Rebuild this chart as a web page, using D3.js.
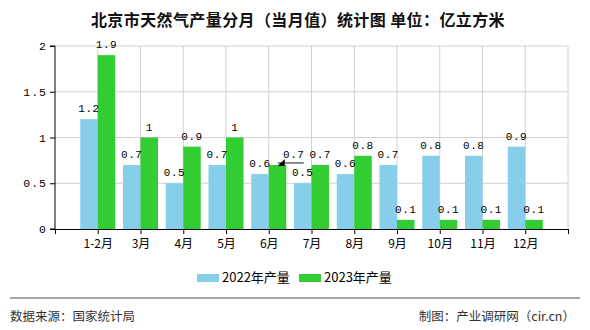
<!DOCTYPE html>
<html><head><meta charset="utf-8">
<script src="https://cdn.jsdelivr.net/npm/d3@7"></script>
<style>body{margin:0;background:#fff}svg{display:block}</style>
</head><body><svg id="c" width="590" height="330"></svg>
<script>
const categories = ["1-2月","3月","4月","5月","6月","7月","8月","9月","10月","11月","12月"];
const values2022 = [1.2,0.7,0.5,0.7,0.6,0.5,0.6,0.7,0.8,0.8,0.9];
const values2023 = [1.9,1,0.9,1,0.7,0.7,0.8,0.1,0.1,0.1,0.1];
const yTicks = [0,0.5,1,1.5,2];
const seriesNames = ["2022年产量","2023年产量"];
const colors = ["#87ceeb","#32cd32"];

const svg = d3.select("#c");
const L=55,R=568,T=46,B=229;
const x = d3.scaleLinear().domain([0,categories.length+1]).range([L,R]);
const y = d3.scaleLinear().domain([0,2]).range([B,T]);
const bw = 17.5;

// title
svg.append("text").attr("x",298).attr("y",26).attr("text-anchor","middle")
  .attr("font-family","'Noto Sans CJK SC',sans-serif").attr("font-size",16).attr("font-weight","bold")
  .attr("letter-spacing",0.4).attr("fill","#111").text("北京市天然气产量分月（当月值）统计图 单位：亿立方米");

// grid
const xt = d3.range(0,categories.length+2);
svg.append("g").selectAll("line").data(yTicks.filter(d=>d>0)).join("line")
  .attr("x1",L).attr("x2",R).attr("y1",d=>y(d)).attr("y2",d=>y(d)).attr("stroke","#d0d0d0");
svg.append("g").selectAll("line").data(xt.slice(1)).join("line")
  .attr("x1",d=>x(d)).attr("x2",d=>x(d)).attr("y1",T).attr("y2",B).attr("stroke","#d0d0d0");

// bars
const g = svg.append("g");
g.selectAll("rect.a").data(values2022).join("rect").attr("class","a")
  .attr("x",(d,i)=>x(i+1)-bw).attr("width",bw).attr("y",d=>y(d)).attr("height",d=>B-y(d)).attr("fill",colors[0]);
g.selectAll("rect.b").data(values2023).join("rect").attr("class","b")
  .attr("x",(d,i)=>x(i+1)).attr("width",bw).attr("y",d=>y(d)).attr("height",d=>B-y(d)).attr("fill",colors[1]);

// axes
const yAxis = d3.axisLeft(y).tickValues(yTicks).tickFormat(d3.format("")).tickSize(5);
const ya = svg.append("g").attr("transform",`translate(${L},0)`).call(yAxis);
ya.select(".domain").attr("stroke","#000").attr("d",`M-5,${T}H0V${B}H-5`);
ya.selectAll("text").attr("font-family","'Liberation Mono',monospace").attr("font-size",11.5).attr("letter-spacing",1)
  .attr("fill","#000").attr("x",-8);
const xAxis = d3.axisBottom(x).tickValues(xt).tickFormat(d=>categories[d-1]||"").tickSize(5).tickSizeOuter(0);
const xa = svg.append("g").attr("transform",`translate(0,${B})`).call(xAxis);
xa.select(".domain").attr("stroke","#000");
xa.selectAll("text").attr("font-family","'Noto Sans CJK SC',sans-serif").attr("font-size",12).attr("fill","#000").attr("dy","0.9em");

// labels
const lf = "'Liberation Mono',monospace";
const lab = svg.append("g").attr("font-family",lf).attr("font-size",11).attr("letter-spacing",0.5).attr("fill","#000").attr("text-anchor","middle");
lab.selectAll("text.a").data(values2022).join("text").attr("class","a")
  .attr("x",(d,i)=>x(i+1)-bw/2).attr("y",d=>y(d)-7).text(d=>d3.format("")(d));
lab.selectAll("text.b").data(values2023).join("text").attr("class","b")
  .attr("x",(d,i)=>i===4?x(i+1)+25:x(i+1)+bw/2).attr("y",d=>y(d)-7).text(d=>d3.format("")(d));
// leader arrow for displaced label (6月, 2023)
const ax0 = x(5)+9, ay = y(values2023[4]);
svg.append("line").attr("x1",ax0).attr("x2",x(5)+35).attr("y1",ay-2).attr("y2",ay-2).attr("stroke","#888").attr("stroke-width",2);
svg.append("path").attr("d",`M${ax0},${ay+1}L${ax0+7},${ay-6}L${ax0+7},${ay+1}Z`).attr("fill","#000");

// legend
const leg = svg.append("g").attr("font-family","'Noto Sans CJK SC',sans-serif").attr("font-size",13);
seriesNames.forEach((n,i)=>{
  const lx = 197 + i*102;
  leg.append("rect").attr("x",lx).attr("y",274).attr("width",22).attr("height",8).attr("fill",colors[i]);
  leg.append("text").attr("x",lx+25).attr("y",282).attr("fill","#000").text(n);
});

// footer
svg.append("line").attr("x1",10).attr("x2",580).attr("y1",298).attr("y2",298).attr("stroke","#888").attr("stroke-width",1.5);
svg.append("text").attr("x",10).attr("y",321).attr("font-family","'Noto Sans CJK SC',sans-serif").attr("font-size",12.5).attr("fill","#333").text("数据来源：国家统计局");
svg.append("text").attr("x",575).attr("y",321).attr("text-anchor","end").attr("font-family","'Noto Sans CJK SC',sans-serif").attr("font-size",12.5).attr("fill","#333").text("制图：产业调研网（cir.cn）");
</script></body></html>
